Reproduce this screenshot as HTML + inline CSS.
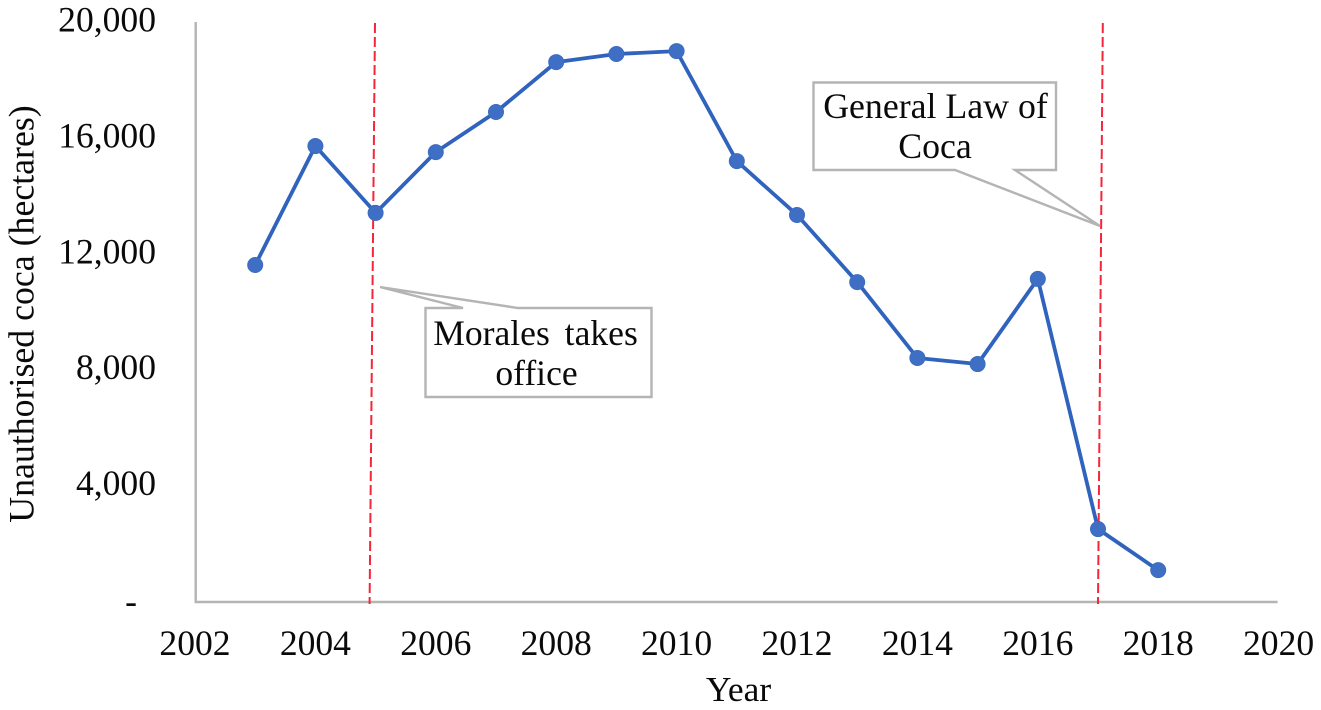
<!DOCTYPE html>
<html lang="en">
<head>
<meta charset="utf-8">
<title>Unauthorised coca</title>
<style>
html,body{margin:0;padding:0;background:#fff;width:1321px;height:710px;overflow:hidden}
svg{display:block}
text{font-family:"Liberation Serif",serif;fill:#0a0a0a}
</style>
</head>
<body>
<svg id="chart" xmlns="http://www.w3.org/2000/svg" width="1321" height="710" viewBox="0 0 1321 710">
  <g id="axes"></g>
  <g id="events"></g>
  <g id="series"></g>
  <g>
    <path d="M813.5 82.5H1056V170H1015L1100 226 955 170H813.5Z" fill="#fff" stroke="#b4b4b4" stroke-width="2.4" stroke-linejoin="miter"/>
    <text x="935.5" y="118" font-size="35.8" text-anchor="middle">General Law of</text>
    <text x="935" y="158" font-size="35.8" text-anchor="middle">Coca</text>
  </g>
  <g>
    <path d="M425.5 308H463L380 287 518 308H651.5V397H425.5Z" fill="#fff" stroke="#b4b4b4" stroke-width="2.4" stroke-linejoin="miter"/>
    <text x="535.5" y="345" font-size="35.6" text-anchor="middle" word-spacing="6">Morales takes</text>
    <text x="536.5" y="385" font-size="35.6" text-anchor="middle">office</text>
  </g>
  <text transform="translate(33.5 314) rotate(-90)" font-size="35.8" text-anchor="middle">Unauthorised coca (hectares)</text>
  <text x="738.5" y="701" font-size="35.4" text-anchor="middle">Year</text>
</svg>
<script>
const years = [2003,2004,2005,2006,2007,2008,2009,2010,2011,2012,2013,2014,2015,2016,2017,2018];
const hectares = [11640,15750,13440,15540,16925,18650,18930,19030,15230,13370,11050,8430,8220,11160,2520,1100];
const xTickValues = [2002,2004,2006,2008,2010,2012,2014,2016,2018,2020];
const yTickValues = [4000,8000,12000,16000,20000];
const yTickLabels = ['4,000','8,000','12,000','16,000','20,000'];
const zeroTickLabel = '-';
const eventTopYears = [2004.99,2017.08];
const eventBottomYears = [2004.9,2017.0];

const NS = 'http://www.w3.org/2000/svg';
function xScale(v){ return 195 + (v - 2002) * 60.2; }
function yScale(v){ return 602 - v * 0.02895; }
function make(tag, parent, attrs){
  const el = document.createElementNS(NS, tag);
  for (const k in attrs) el.setAttribute(k, attrs[k]);
  parent.appendChild(el);
  return el;
}
const axes = document.getElementById('axes');
const yAxisLine = make('line', axes, {x1:xScale(2002)+0.7, x2:xScale(2002)+0.7, y1:yScale(20000)-1, y2:yScale(0), stroke:'#b4b4b4', 'stroke-width':2.4});


const xAxisLine = make('line', axes, {x1:xScale(2002)-0.5, x2:xScale(2020)-1, y1:yScale(0), y2:yScale(0), stroke:'#b4b4b4', 'stroke-width':2.4});



xTickValues.forEach(function(v){
  const t = make('text', axes, {x:xScale(v), y:655, 'font-size':35.6, 'text-anchor':'middle'});
  t.textContent = v;
  
  
});
yTickValues.forEach(function(v, i){
  const t = make('text', axes, {x:156, y:yScale(v)+8.7, 'font-size':35.6, 'text-anchor':'end'});
  t.textContent = yTickLabels[i];
  
  
});
const zeroTick = make('text', axes, {x:137, y:yScale(0)+11, 'font-size':35.6, 'text-anchor':'end'});
zeroTick.textContent = zeroTickLabel;



const events = document.getElementById('events');
eventTopYears.forEach(function(v, i){
  const l = make('line', events, {x1:xScale(v), y1:yScale(20000), x2:xScale(eventBottomYears[i]), y2:yScale(-70), stroke:'#f5263a', 'stroke-width':2, 'stroke-dasharray':'10 4'});
  
  
});

const series = document.getElementById('series');
const pts = years.map(function(y, i){ return xScale(y).toFixed(1) + ',' + yScale(hectares[i]).toFixed(1); }).join(' ');
const line = make('polyline', series, {points:pts, fill:'none', stroke:'#2f63bd', 'stroke-width':3.8, 'stroke-linejoin':'round'});


years.forEach(function(y, i){
  const c = make('circle', series, {cx:xScale(y), cy:yScale(hectares[i]), r:7.6, fill:'#3f6fc4', stroke:'#3a6bc2', 'stroke-width':0.8});
  
  
});
</script>
</body>
</html>
